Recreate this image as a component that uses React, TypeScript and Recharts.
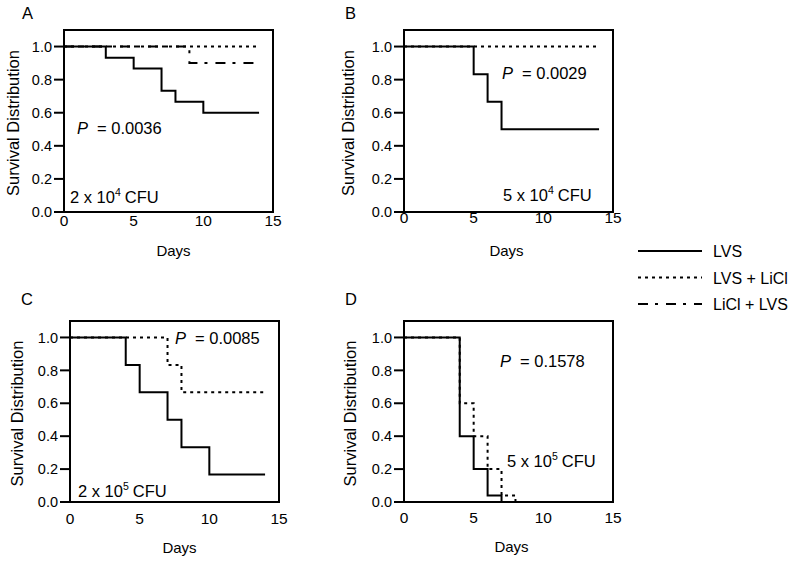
import React from 'react';
import { LineChart, Line, XAxis, YAxis, ReferenceArea, Label } from 'recharts';

// Kaplan-Meier survival steps (day of event, survival after it)
const A_LVS_DAYS = [0, 3, 5, 7, 8, 10, 14];
const A_LVS_SURV = [1, 0.933, 0.867, 0.733, 0.667, 0.6, 0.6];
const A_LVS_LICL_DAYS = [0, 14];
const A_LVS_LICL_SURV = [1, 1];
const A_LICL_LVS_DAYS = [0, 9, 14];
const A_LICL_LVS_SURV = [1, 0.9, 0.9];

const B_LVS_DAYS = [0, 5, 6, 7, 14];
const B_LVS_SURV = [1, 0.833, 0.667, 0.5, 0.5];
const B_LVS_LICL_DAYS = [0, 14];
const B_LVS_LICL_SURV = [1, 1];

const C_LVS_DAYS = [0, 4, 5, 7, 8, 10, 14];
const C_LVS_SURV = [1, 0.833, 0.667, 0.5, 0.333, 0.167, 0.167];
const C_LVS_LICL_DAYS = [0, 7, 8, 14];
const C_LVS_LICL_SURV = [1, 0.833, 0.667, 0.667];

const D_LVS_DAYS = [0, 4, 5, 6, 7];
const D_LVS_SURV = [1, 0.4, 0.2, 0.04, 0];
const D_LVS_LICL_DAYS = [0, 4, 5, 6, 7, 8];
const D_LVS_LICL_SURV = [1, 0.6, 0.4, 0.2, 0.04, 0];

const X_TICKS = [0, 5, 10, 15];
const Y_TICKS = [0, 0.2, 0.4, 0.6, 0.8, 1.0];

const LEGEND = ['LVS', 'LVS + LiCl', 'LiCl + LVS'];
const P_VALUES = ['0.0036', '0.0029', '0.0085', '0.1578'];

const FONT = '"Liberation Sans", Arial, sans-serif';
const DASH: Record<string, string | undefined> = {
  'LVS': undefined,
  'LVS + LiCl': '3 4',
  'LiCl + LVS': '10 7 3 8',
};

const zip = (days: number[], surv: number[]) =>
  days.map((d, i) => ({ day: d, surv: surv[i] }));

type Series = { name: string; data: { day: number; surv: number }[] };

interface PanelProps {
  left: number;
  top: number;
  width: number;
  height: number;
  margin: { top: number; right: number; bottom: number; left: number };
  yAxisWidth: number;
  xTickSize: number;
  yLabelOffset: number;
  xLabelOffset: number;
  xLabelDx: number;
  series: Series[];
}

const Panel = ({
  left, top, width, height, margin, yAxisWidth, xTickSize, yLabelOffset, xLabelOffset, xLabelDx, series,
}: PanelProps) => (
  <div style={{ position: 'absolute', left, top }}>
    <LineChart width={width} height={height} margin={margin}>
      <XAxis
        dataKey="day"
        type="number"
        domain={[0, 15]}
        ticks={X_TICKS}
        axisLine={false}
        tickLine={false}
        tickSize={xTickSize}
        tickMargin={0}
        height={30}
        tick={{ fill: '#000', fontSize: 15.5, fontFamily: FONT }}
        allowDataOverflow
      >
        <Label
          value="Days"
          position="bottom"
          offset={xLabelOffset}
          dx={xLabelDx}
          style={{ fill: '#000', fontSize: 15, fontFamily: FONT }}
        />
      </XAxis>
      <YAxis
        type="number"
        domain={[0, 1.1]}
        ticks={Y_TICKS}
        width={yAxisWidth}
        axisLine={false}
        tickLine={{ stroke: '#000', strokeWidth: 2 }}
        tickSize={10}
        tickMargin={2}
        tickFormatter={(v: number) => v.toFixed(1)}
        tick={{ fill: '#000', fontSize: 14.5, fontFamily: FONT }}
        allowDataOverflow
      >
        <Label
          value="Survival Distribution"
          angle={-90}
          position="insideLeft"
          offset={yLabelOffset}
          dy={2}
          style={{ textAnchor: 'middle', fill: '#000', fontSize: 16.5, fontFamily: FONT }}
        />
      </YAxis>
      {series.map((s) => (
        <Line
          key={s.name}
          name={s.name}
          data={s.data}
          dataKey="surv"
          type="stepAfter"
          stroke="#000"
          strokeWidth={2}
          strokeDasharray={DASH[s.name]}
          dot={false}
          activeDot={false}
          isAnimationActive={false}
        />
      ))}
      <ReferenceArea x1={0} x2={15} y1={0} y2={1.1} fill="none" stroke="#000" strokeWidth={2} />
    </LineChart>
  </div>
);

// P value + inoculum text, drawn over the panels
const Annot = ({ x, y, p }: { x: number; y: number; p: string }) => (
  <text x={x} y={y} fontSize={16.5} fontFamily={FONT} fill="#000">
    <tspan fontStyle="italic">P</tspan>
    <tspan dx={9}>= {p}</tspan>
  </text>
);

const Dose = ({ x, y, lead, exp }: { x: number; y: number; lead: string; exp: string }) => (
  <text x={x} y={y} fontSize={16.5} fontFamily={FONT} fill="#000">
    <tspan>{lead} x 10</tspan>
    <tspan dy={-7} fontSize={10.5}>{exp}</tspan>
    <tspan dy={7} dx={4}>CFU</tspan>
  </text>
);

export default function App() {
  return (
    <div style={{ position: 'absolute', left: 0, top: 0, width: 800, height: 564, background: '#fff' }}>
      <Panel
        left={0} top={0} width={300} height={270}
        margin={{ top: 30, right: 27, bottom: 28, left: 0 }}
        yAxisWidth={64} xTickSize={3} yLabelOffset={13} xLabelOffset={3} xLabelDx={5}
        series={[
          { name: 'LVS + LiCl', data: zip(A_LVS_LICL_DAYS, A_LVS_LICL_SURV) },
          { name: 'LiCl + LVS', data: zip(A_LICL_LVS_DAYS, A_LICL_LVS_SURV) },
          { name: 'LVS', data: zip(A_LVS_DAYS, A_LVS_SURV) },
        ]}
      />
      <Panel
        left={330} top={0} width={300} height={270}
        margin={{ top: 30, right: 17, bottom: 28, left: 0 }}
        yAxisWidth={74} xTickSize={0} yLabelOffset={18} xLabelOffset={3} xLabelDx={-2}
        series={[
          { name: 'LVS + LiCl', data: zip(B_LVS_LICL_DAYS, B_LVS_LICL_SURV) },
          { name: 'LVS', data: zip(B_LVS_DAYS, B_LVS_SURV) },
        ]}
      />
      <Panel
        left={0} top={290} width={300} height={274}
        margin={{ top: 31, right: 21, bottom: 32, left: 0 }}
        yAxisWidth={70} xTickSize={11} yLabelOffset={17} xLabelOffset={10} xLabelDx={5}
        series={[
          { name: 'LVS + LiCl', data: zip(C_LVS_LICL_DAYS, C_LVS_LICL_SURV) },
          { name: 'LVS', data: zip(C_LVS_DAYS, C_LVS_SURV) },
        ]}
      />
      <Panel
        left={330} top={290} width={300} height={274}
        margin={{ top: 31, right: 17, bottom: 32, left: 0 }}
        yAxisWidth={74} xTickSize={10} yLabelOffset={20} xLabelOffset={9} xLabelDx={3}
        series={[
          { name: 'LVS + LiCl', data: zip(D_LVS_LICL_DAYS, D_LVS_LICL_SURV) },
          { name: 'LVS', data: zip(D_LVS_DAYS, D_LVS_SURV) },
        ]}
      />

      <svg
        width={800}
        height={564}
        style={{ position: 'absolute', left: 0, top: 0, pointerEvents: 'none' }}
      >
        {/* panel letters */}
        <g fontSize={16.5} fontFamily={FONT} fill="#000">
          <text x={22} y={19}>A</text>
          <text x={345} y={19}>B</text>
          <text x={21} y={305}>C</text>
          <text x={345} y={305}>D</text>
        </g>

        <Annot x={77} y={134} p={P_VALUES[0]} />
        <Dose x={70} y={203} lead="2" exp="4" />
        <Annot x={502} y={79} p={P_VALUES[1]} />
        <Dose x={503} y={201} lead="5" exp="4" />
        <Annot x={175} y={344} p={P_VALUES[2]} />
        <Dose x={78} y={497} lead="2" exp="5" />
        <Annot x={500} y={367} p={P_VALUES[3]} />
        <Dose x={507} y={467} lead="5" exp="5" />

        {/* shared legend */}
        {LEGEND.map((name, i) => {
          const y = 251 + i * 26.5;
          return (
            <g key={name}>
              <line x1={638} x2={702} y1={y} y2={y} stroke="#000" strokeWidth={2} strokeDasharray={DASH[name]} />
              <text x={713} y={y + 6} fontSize={16} fontFamily={FONT} fill="#000">{name}</text>
            </g>
          );
        })}
      </svg>
    </div>
  );
}
